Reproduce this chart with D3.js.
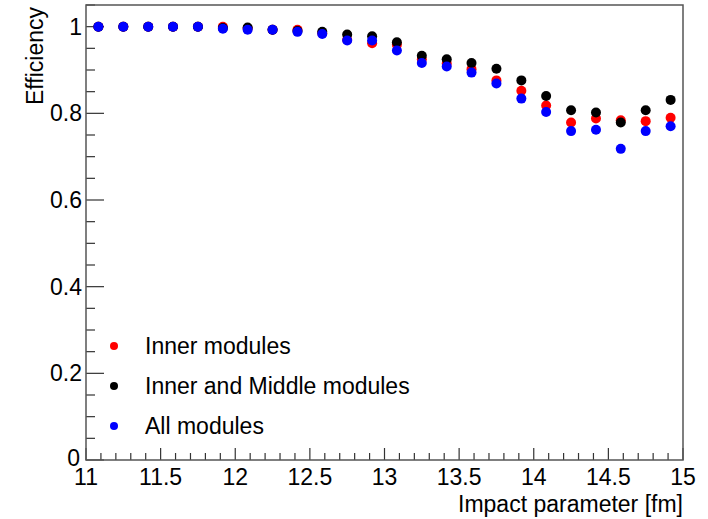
<!DOCTYPE html>
<html>
<head>
<meta charset="utf-8">
<script src="https://cdn.jsdelivr.net/npm/d3@7"></script>
<style>
  body { margin: 0; background: #fff; }
  text { font-family: "Liberation Sans", Arial, Helvetica, sans-serif; fill: #000; }
</style>
</head>
<body>
<div id="container"></div>
<script>
/* CONSTANTS AND GLOBALS */
const width = 708,
  height = 519,
  margin = { top: 5, bottom: 59, left: 86, right: 25 },
  radius = 5,
  fontSize = 23;

// bin centres along impact parameter (fm)
const impact = [11.083, 11.25, 11.417, 11.583, 11.75, 11.917, 12.083, 12.25,
  12.417, 12.583, 12.75, 12.917, 13.083, 13.25, 13.417, 13.583,
  13.75, 13.917, 14.083, 14.25, 14.417, 14.583, 14.75, 14.917];

// efficiency
const innerEff = [1.0, 1.0, 1.0, 1.0, 1.0, 1.0, 0.996, 0.993,
  0.993, 0.985, 0.970, 0.962, 0.958, 0.925, 0.915, 0.902,
  0.876, 0.852, 0.818, 0.779, 0.788, 0.784, 0.782, 0.790];
const innerMiddleEff = [1.0, 1.0, 1.0, 1.0, 1.0, 0.997, 0.998, 0.993,
  0.990, 0.988, 0.982, 0.978, 0.964, 0.933, 0.925, 0.916,
  0.903, 0.876, 0.840, 0.807, 0.802, 0.779, 0.807, 0.831];
const allEff = [1.0, 1.0, 1.0, 1.0, 1.0, 0.995, 0.993, 0.993,
  0.988, 0.983, 0.968, 0.968, 0.945, 0.916, 0.908, 0.894,
  0.869, 0.834, 0.803, 0.759, 0.762, 0.718, 0.759, 0.770];

const seriesNames = ["Inner modules", "Inner and Middle modules", "All modules"];
const seriesColors = ["#ff0000", "#000000", "#0000ff"];
const seriesValues = [innerEff, innerMiddleEff, allEff];

const xTicks = [11, 11.5, 12, 12.5, 13, 13.5, 14, 14.5, 15];
const yTicks = [0, 0.2, 0.4, 0.6, 0.8, 1];

const svg = d3.select("#container")
  .append("svg")
  .attr("width", width)
  .attr("height", height);

// + SCALES
const xScale = d3.scaleLinear()
  .domain([11, 15])
  .range([margin.left, width - margin.right]);

const yScale = d3.scaleLinear()
  .domain([0, 1.05])
  .range([height - margin.bottom, margin.top]);

const x0 = xScale.range()[0], x1 = xScale.range()[1];
const y0 = yScale.range()[0], y1 = yScale.range()[1];

// + TICKS (ROOT style, pointing inside the frame)
const xMinor = d3.range(11, 15.0001, 0.1).map(d => +d.toFixed(2));
svg.append("g")
  .selectAll("line")
  .data(xMinor)
  .join("line")
  .attr("x1", d => xScale(d))
  .attr("x2", d => xScale(d))
  .attr("y1", y0)
  .attr("y2", d => y0 - (xTicks.includes(d) ? 12 : 7))
  .attr("stroke", "#333")
  .attr("stroke-width", 1.2);

const yMinor = d3.range(0, 1.0501, 0.05).map(d => +d.toFixed(2));
svg.append("g")
  .selectAll("line")
  .data(yMinor)
  .join("line")
  .attr("x1", x0)
  .attr("x2", d => x0 + (yTicks.includes(d) ? 18 : 9))
  .attr("y1", d => yScale(d))
  .attr("y2", d => yScale(d))
  .attr("stroke", "#333")
  .attr("stroke-width", 1.2);

// frame
svg.append("rect")
  .attr("x", x0)
  .attr("y", y1)
  .attr("width", x1 - x0)
  .attr("height", y0 - y1)
  .attr("fill", "none")
  .attr("stroke", "#555")
  .attr("stroke-width", 1.5);

// + TICK LABELS
svg.append("g")
  .selectAll("text")
  .data(xTicks)
  .join("text")
  .attr("x", d => xScale(d))
  .attr("y", y0 + 25)
  .attr("text-anchor", "middle")
  .attr("font-size", fontSize)
  .text(d => d);

svg.append("g")
  .selectAll("text")
  .data(yTicks)
  .join("text")
  .attr("x", d => x0 - (d === 0 ? 6 : 4))
  .attr("y", d => yScale(d) + (d === 0 ? 6 : 8))
  .attr("text-anchor", "end")
  .attr("font-size", fontSize)
  .text(d => d);

// + AXIS TITLES
svg.append("text")
  .attr("x", x1)
  .attr("y", height - 7)
  .attr("text-anchor", "end")
  .attr("font-size", fontSize)
  .text("Impact parameter [fm]");

svg.append("text")
  .attr("transform", `translate(${43}, ${y1 + 2}) rotate(-90)`)
  .attr("text-anchor", "end")
  .attr("font-size", fontSize)
  .text("Efficiency");

// + POINTS (red, then black, then blue on top)
seriesValues.forEach((vals, k) => {
  svg.append("g")
    .selectAll("circle")
    .data(vals.map((v, i) => ({ x: impact[i], y: v })))
    .join("circle")
    .attr("cx", d => xScale(d.x))
    .attr("cy", d => yScale(d.y))
    .attr("r", radius)
    .attr("fill", seriesColors[k]);
});

// + LEGEND
const legend = svg.append("g")
  .selectAll("g")
  .data(seriesNames)
  .join("g")
  .attr("transform", (d, i) => `translate(${114}, ${346 + i * 40})`);

legend.append("circle")
  .attr("r", 4)
  .attr("fill", (d, i) => seriesColors[i]);

legend.append("text")
  .attr("x", 31)
  .attr("y", 8)
  .attr("font-size", fontSize)
  .text(d => d);
</script>
</body>
</html>
